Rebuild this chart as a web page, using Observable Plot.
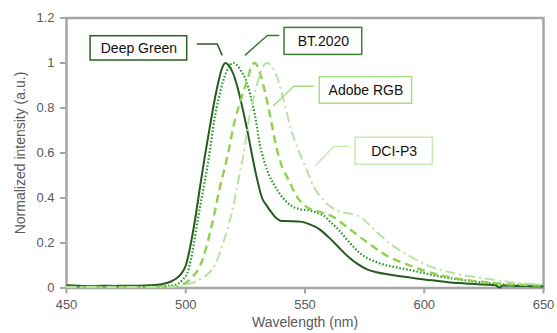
<!DOCTYPE html>
<html><head><meta charset="utf-8">
<script src="https://cdn.jsdelivr.net/npm/d3@7"></script>
<script src="https://cdn.jsdelivr.net/npm/@observablehq/plot@0.6"></script>
<style>body{margin:0;background:#fff}</style>
</head><body><div id="chart"></div>
<script>
// ---- data ----
const seriesNames = ["Deep Green", "BT.2020", "Adobe RGB", "DCI-P3"];

const deepGreenWl = [450,455,460,465,470,475,480,485,488,490,492,494,496,498,500,502,504,506,508,510,512,514,515,516.7,518,520,522,524,526,528,530,532,534,536,538,540,544,548,552,556,560,564,568,572,576,580,585,590,595,600,605,610,615,620,625,630,631.5,633,640,645,650];
const deepGreenInt = [0.012,0.01,0.008,0.01,0.009,0.01,0.01,0.012,0.014,0.017,0.022,0.03,0.042,0.062,0.1,0.19,0.31,0.45,0.585,0.71,0.83,0.93,0.97,1.0,0.99,0.95,0.88,0.79,0.69,0.58,0.48,0.40,0.365,0.335,0.31,0.298,0.297,0.295,0.283,0.262,0.225,0.182,0.14,0.107,0.083,0.07,0.06,0.052,0.045,0.038,0.032,0.026,0.022,0.019,0.015,0.012,0.002,0.011,0.009,0.008,0.007];

const bt2020Wl = [450,460,470,480,488,492,495,497,499,500.6,502,503.4,505,507,509.7,512,514,515.3,517,518.5,520,521.5,523.5,525,527,529,531,533,535,537,540,544,548,552,556,558,561,564,568,573,580,589,594,604,618,629,640,650];
const bt2020Int = [0.008,0.006,0.006,0.006,0.007,0.009,0.013,0.02,0.04,0.064,0.12,0.196,0.3,0.42,0.58,0.75,0.85,0.907,0.96,0.99,1.0,0.99,0.96,0.93,0.86,0.77,0.64,0.56,0.50,0.46,0.41,0.367,0.35,0.345,0.33,0.32,0.29,0.26,0.21,0.155,0.115,0.09,0.08,0.056,0.033,0.019,0.013,0.01];

const adobeWl = [450,470,490,495,498,500,502,503.4,505,507,509.7,512,514,516,518,520,523,526,527.5,529,530.5,531.3,533.4,535.5,537.6,539.7,543.2,546.7,550.9,556.5,562,567.7,576,584.5,592.8,600,607,618,626,632,646,650];
const adobeInt = [0.004,0.004,0.004,0.005,0.01,0.022,0.04,0.056,0.078,0.125,0.226,0.33,0.433,0.52,0.61,0.72,0.833,0.93,0.985,1.0,0.975,0.95,0.863,0.76,0.645,0.56,0.478,0.404,0.359,0.337,0.315,0.27,0.204,0.142,0.105,0.077,0.056,0.035,0.026,0.019,0.012,0.01];

const dciWl = [450,470,490,495,498,500.6,503.4,506.2,509,512.5,516,519.5,522.3,524.3,526.4,529.2,531,532.5,534,536,538.3,541.1,543.9,546.7,548.1,550.9,553.7,557.9,563.5,569,573.3,577.5,585.8,594.2,602.6,613.8,626.4,640.3,650];
const dciInt = [0.004,0.004,0.004,0.005,0.008,0.016,0.025,0.041,0.06,0.107,0.211,0.344,0.49,0.6,0.744,0.878,0.944,0.985,1.0,0.985,0.937,0.833,0.715,0.626,0.59,0.52,0.45,0.389,0.344,0.33,0.315,0.275,0.196,0.14,0.095,0.063,0.041,0.022,0.015];

const xTicks = [450, 500, 550, 600, 650];
const yTicks = [0, 0.2, 0.4, 0.6, 0.8, 1, 1.2];
const yTickLabels = ["0", "0.2", "0.4", "0.6", "0.8", "1", "1.2"];
const xTitle = "Wavelength (nm)";
const yTitle = "Normalized intensity (a.u.)";

// ---- styling / layout (not data) ----
const styles = [
  {color: "#265a1f", dash: null, width: 2},
  {color: "#2a9a2a", dash: "1.6,1.9", width: 2.2},
  {color: "#8fd14f", dash: "8,5", width: 2.4},
  {color: "#b7e3a3", dash: "10,4,2,4", width: 2}
];
const boxStroke = ["#2b5e22", "#3b7f33", "#a6dc85", "#c6e9b4"];
// label box and leader positions, in chart units (wavelength, intensity)
const labelLayout = [
  {box: [460.1, 500.6, 1.011, 1.119], leader: [[504.8, 1.085], [513.2, 1.085], [515.2, 1.036]]},
  {box: [541.4, 574.0, 1.036, 1.156], leader: [[539.0, 1.122], [534.2, 1.122], [525.0, 1.036]]},
  {box: [556.2, 594.9, 0.819, 0.937], leader: [[553.4, 0.897], [545.3, 0.897], [536.9, 0.811]]},
  {box: [571.2, 603.6, 0.548, 0.668], leader: [[568.4, 0.629], [562.1, 0.629], [554.4, 0.544]]}
];

const wls = [deepGreenWl, bt2020Wl, adobeWl, dciWl];
const ints = [deepGreenInt, bt2020Int, adobeInt, dciInt];
const series = seriesNames.map((name, i) => wls[i].map((w, j) => ({wl: w, v: ints[i][j], name})));

const font = "'Liberation Sans', Arial, sans-serif";
const gray = "#595959";
const axisGray = "#a6a6a6";

const lineMarks = series.map((rows, i) => Plot.line(rows, {
  x: "wl", y: "v", stroke: styles[i].color, strokeWidth: styles[i].width,
  strokeDasharray: styles[i].dash, strokeLinecap: "butt", curve: "monotone-x", strokeLinejoin: "round"
}));

const labelMarks = labelLayout.flatMap((L, i) => [
  Plot.line(L.leader, {x: d => d[0], y: d => d[1], stroke: boxStroke[i], strokeWidth: 1.5}),
  Plot.rect([L], {x1: d => d.box[0], x2: d => d.box[1], y1: d => d.box[2], y2: d => d.box[3],
    fill: "white", stroke: boxStroke[i], strokeWidth: 1.5}),
  Plot.text([seriesNames[i]], {x: (L.box[0] + L.box[1]) / 2, y: (L.box[2] + L.box[3]) / 2,
    text: d => d, fontSize: 14, fill: "#111", textAnchor: "middle", lineAnchor: "middle"})
]);

const chart = Plot.plot({
  width: 557, height: 333,
  marginLeft: 66, marginRight: 14, marginTop: 17.5, marginBottom: 45.5,
  style: {fontFamily: font, fontSize: "13px", color: gray, background: "white", overflow: "visible"},
  x: {domain: [450, 650]},
  y: {domain: [0, 1.2]},
  marks: [
    Plot.axisX({ticks: xTicks, tickSize: 6, tickPadding: 6, stroke: axisGray, strokeWidth: 2, fill: gray, fontSize: 13, label: null}),
    Plot.axisY({ticks: yTicks, tickSize: 6, tickPadding: 6, stroke: axisGray, strokeWidth: 2, fill: gray, fontSize: 13, label: null,
      tickFormat: d => yTickLabels[yTicks.indexOf(d)]}),
    Plot.frame({stroke: axisGray, strokeWidth: 2.5}),
    ...lineMarks,
    ...labelMarks,
    Plot.text([xTitle], {frameAnchor: "bottom", dy: 35, text: d => d, fontSize: 14, fill: gray, textAnchor: "middle", lineAnchor: "middle"}),
    Plot.text([yTitle], {frameAnchor: "left", dx: -46, rotate: -90, text: d => d, fontSize: 14, fill: gray, textAnchor: "middle", lineAnchor: "middle"})
  ]
});
document.getElementById("chart").appendChild(chart);
</script>
</body></html>
